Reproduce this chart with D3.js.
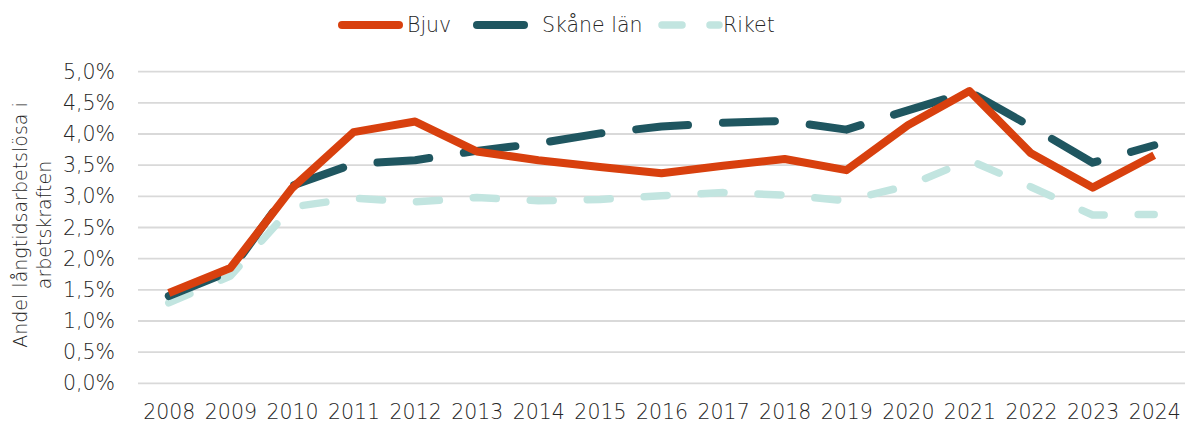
<!DOCTYPE html>
<html><head><meta charset="utf-8">
<script src="https://cdn.jsdelivr.net/npm/d3@7"></script>
<style>body{margin:0;background:#fff}svg{display:block}text{font-family:"DejaVu Sans",sans-serif;font-weight:200;fill:#262626}</style>
</head><body><div id="c"></div>
<script>
const years = ["2008","2009","2010","2011","2012","2013","2014","2015","2016","2017","2018","2019","2020","2021","2022","2023","2024"];
const bjuv  = [1.45,1.85,3.13,4.03,4.20,3.72,3.58,3.47,3.37,3.49,3.60,3.42,4.14,4.69,3.69,3.14,3.66];
const skane = [1.40,1.80,3.17,3.52,3.58,3.73,3.85,4.01,4.12,4.18,4.21,4.07,4.38,4.68,4.12,3.54,3.82];
const riket = [1.29,1.72,2.83,2.97,2.91,2.98,2.93,2.95,3.01,3.06,3.02,2.93,3.17,3.58,3.15,2.70,2.71];
const yTicks = [0,0.5,1,1.5,2,2.5,3,3.5,4,4.5,5];
const seriesNames = ["Bjuv","Skåne län","Riket"];

const W=1188,H=423;
const FONT='"DejaVu Sans",sans-serif';
const svg=d3.select("#c").append("svg").attr("width",W).attr("height",H);
const m={l:138,r:3};
const x=d3.scalePoint().domain(years).range([m.l,W-m.r]).padding(0.5);
const y=d3.scaleLinear().domain([0,5]).range([383.3,71.7]);
const fmt=d=>d.toFixed(1).replace(".",",")+"%";

svg.append("g").selectAll("line").data(yTicks).join("line")
 .attr("x1",m.l).attr("x2",W-m.r).attr("y1",d=>y(d)).attr("y2",d=>y(d))
 .attr("stroke","#d9d9d9").attr("stroke-width",1.8);

const ya=svg.append("g").attr("transform",`translate(${m.l},0)`)
 .call(d3.axisLeft(y).tickValues(yTicks).tickFormat(fmt).tickSize(0).tickPadding(23));
ya.select(".domain").remove();
ya.selectAll("text").attr("font-size",20.5).style("font-family",FONT).style("font-weight",200).attr("fill","#262626");

const xa=svg.append("g").attr("transform",`translate(0,${y(0)})`)
 .call(d3.axisBottom(x).tickSize(0).tickPadding(21));
xa.select(".domain").remove();
xa.selectAll("text").attr("font-size",20.5).style("font-family",FONT).style("font-weight",200).attr("fill","#262626");

const yl=svg.append("text").attr("transform","translate(27,225) rotate(-90)").attr("text-anchor","middle").attr("font-size",19);
yl.append("tspan").attr("x",0).attr("dy",0).text("Andel långtidsarbetslösa i");
yl.append("tspan").attr("x",0).attr("dy",24).text("arbetskraften");

const styles=[
 {data:bjuv,color:"#D8400E",w:8,dash:null},
 {data:skane,color:"#1F5660",w:8,dash:"52,35"},
 {data:riket,color:"#C2E5E0",w:7.5,dash:"23,34"}
];
const line=d3.line().x((d,i)=>x(years[i])).y(d=>y(d));
[2,1,0].forEach(k=>{
 const s=styles[k];
 svg.append("path").datum(s.data).attr("d",line).attr("fill","none")
  .attr("stroke",s.color).attr("stroke-width",s.w).attr("stroke-linecap",k===0?"butt":"round")
  .attr("stroke-linejoin","round").attr("stroke-dasharray",s.dash);
});

const lx=[338,473,658];
const tx=[407,542,723];
seriesNames.forEach((n,k)=>{
 const s=styles[k];
 svg.append("line").attr("x1",lx[k]+4).attr("x2",lx[k]+61).attr("y1",25).attr("y2",25)
  .attr("stroke",s.color).attr("stroke-width",s.w).attr("stroke-linecap","round")
  .attr("stroke-dasharray",k===1?"47,40":(k===2?"20,28":null));
 svg.append("text").attr("x",tx[k]).attr("y",32).attr("font-size",20.5).text(n);
});
</script></body></html>
